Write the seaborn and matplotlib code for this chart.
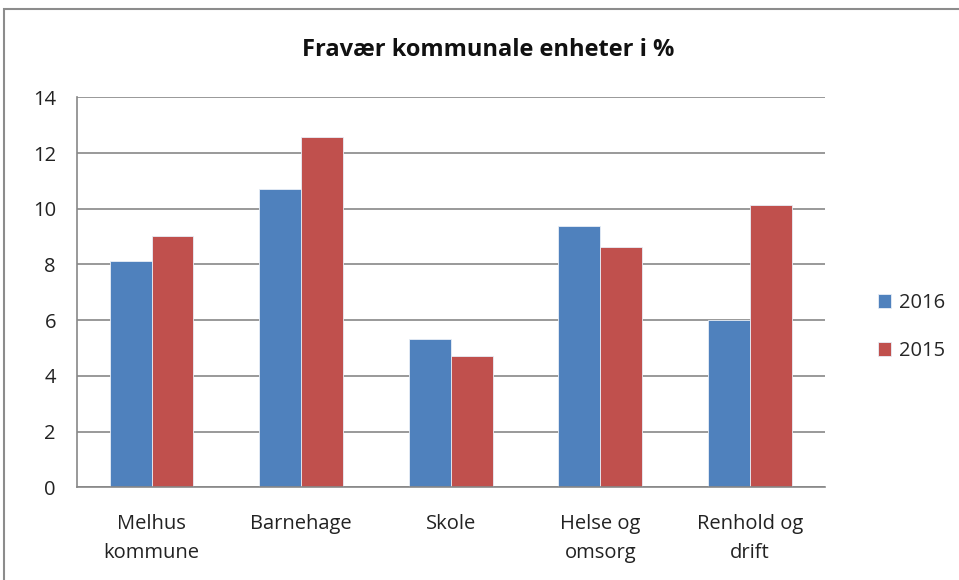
import matplotlib
matplotlib.use("Agg")
import matplotlib.pyplot as plt
import seaborn as sns
import pandas as pd
from matplotlib.patches import Rectangle

categories = ["Melhus\nkommune", "Barnehage", "Skole", "Helse og\nomsorg", "Renhold og\ndrift"]
series_names = ["2016", "2015"]
values_2016 = [8.11, 10.71, 5.32, 9.40, 6.01]
values_2015 = [9.04, 12.58, 4.73, 8.62, 10.12]
y_ticks = [0, 2, 4, 6, 8, 10, 12, 14]
title = "Fravær kommunale enheter i %"
colors = ["#4F81BD", "#C0504D"]

df = pd.DataFrame({
    "kategori": categories * 2,
    "år": [series_names[0]] * len(categories) + [series_names[1]] * len(categories),
    "verdi": values_2016 + values_2015,
})

sns.set_theme(style="white")
plt.rcParams["font.family"] = ["Open Sans", "DejaVu Sans"]

fig = plt.figure(figsize=(9.59, 5.80), dpi=100)
ax = fig.add_axes([0.080, 0.160, 0.780, 0.672])

sns.barplot(data=df, x="kategori", y="verdi", hue="år", hue_order=series_names,
            order=categories, palette=colors, width=0.56, gap=0, ax=ax,
            edgecolor="#e8eef7", linewidth=0.6, saturation=1, errorbar=None)

ax.set_ylim(0, 14)
ax.set_yticks(y_ticks)
ax.set_yticklabels([str(t) for t in y_ticks], fontsize=14.5, color="#222222")
ax.set_xlim(-0.5, len(categories) - 0.5)
ax.tick_params(axis="x", labelsize=14.5, colors="#222222", length=0, pad=19)
ax.tick_params(axis="y", length=0, pad=15)
ax.set_xlabel("")
ax.set_ylabel("")
ax.yaxis.grid(True, color="#878787", linewidth=1.2)
ax.set_axisbelow(True)
for s in ["top", "right"]:
    ax.spines[s].set_visible(False)
for s in ["left", "bottom"]:
    ax.spines[s].set_color("#878787")
    ax.spines[s].set_linewidth(1.2)

for lbl in ax.get_xticklabels():
    lbl.set_linespacing(1.6)

leg = ax.legend(loc="center left", bbox_to_anchor=(0.897, 0.436),
                bbox_transform=fig.transFigure, frameon=False, fontsize=14.5,
                handlelength=0.65, handleheight=0.65, handletextpad=0.4,
                labelspacing=1.4)

fig.text(0.509, 0.914, title, ha="center", va="center", fontsize=17,
         fontweight="bold", color="#111111")

fig.patches.append(Rectangle((4 / 959, -0.1), 1.1, 1 - 9 / 580 + 0.1,
                             transform=fig.transFigure, fill=False,
                             edgecolor="#8c8c8c", linewidth=1.5))

fig.savefig("out.png", dpi=100, facecolor="white")
